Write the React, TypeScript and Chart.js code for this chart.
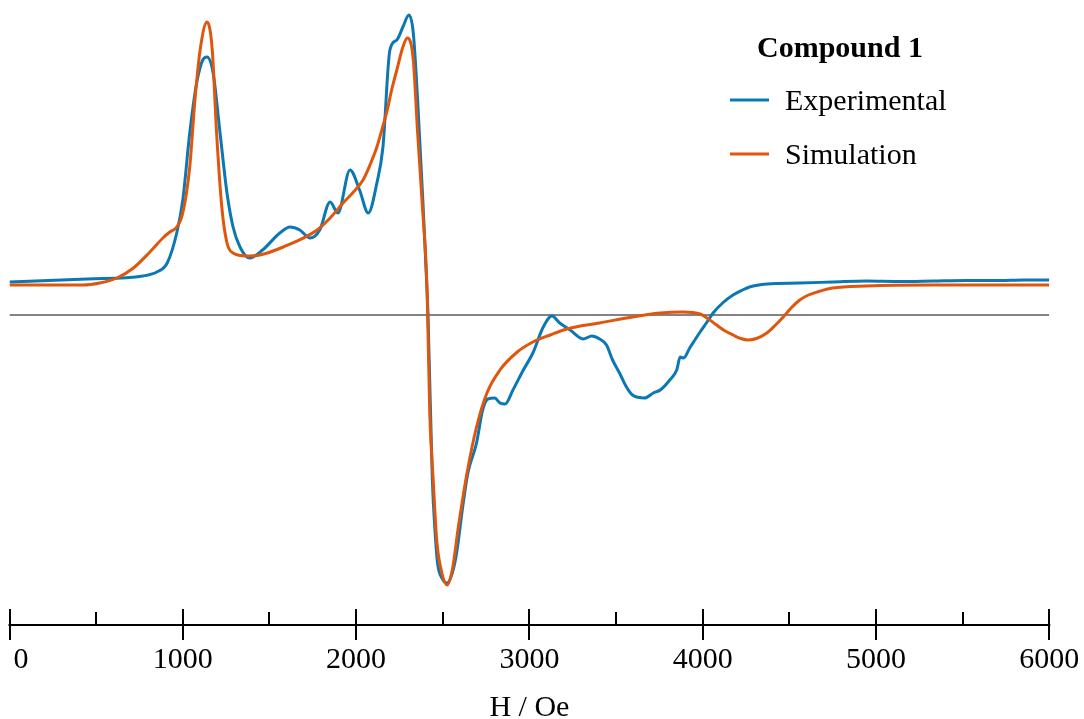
import React, { useEffect, useRef } from 'react';
import { Chart, registerables } from 'chart.js';

Chart.register(...registerables);

// Magnetic field (Oe) and EPR derivative signal (a.u.)
const expField = [
  0, 450, 770, 850, 910, 965, 1000, 1040, 1080, 1115, 1140, 1175, 1215, 1255, 1290, 1330, 1385,
  1460, 1560, 1620, 1675, 1735, 1790, 1850, 1895, 1965, 2020, 2070, 2120, 2155, 2195, 2235, 2270,
  2305, 2330, 2355, 2385, 2410, 2415, 2440, 2455, 2470, 2495, 2525, 2555, 2580, 2615, 2645, 2695,
  2730, 2760, 2800, 2830, 2860, 2905, 2965, 3020, 3080, 3130, 3175, 3235, 3310, 3360, 3405, 3445,
  3480, 3520, 3560, 3595, 3665, 3715, 3755, 3810, 3850, 3870, 3890, 3925, 3955, 3985, 4025, 4060,
  4115, 4175, 4230, 4270, 4370, 4560, 4750, 4945, 5140, 5330, 5520, 5715, 5850, 6000,
];
const expSignal = [
  33, 36, 39, 43, 52, 82, 115, 182, 232, 255, 258, 242, 182, 122, 88, 68, 57,
  65, 82, 88, 85, 77, 85, 113, 102, 145, 125, 102, 132, 168, 265, 275, 288,
  300, 282, 215, 115, 22, 0, -165, -215, -248, -263, -268, -258, -238, -192, -158, -128,
  -95, -84, -83, -88, -89, -75, -55, -38, -12, -1, -8, -15, -24, -21, -24, -30,
  -45, -58, -72, -80, -83, -78, -75, -65, -55, -42, -43, -33, -25, -17, -7, 2,
  12, 20, 25, 28, 31, 32, 33, 34, 33.5, 34, 34.5, 34.5, 35, 35,
];

const simField = [
  0, 425, 520, 620, 715, 810, 885, 925, 965, 1000, 1040, 1070, 1100, 1140, 1170, 1195, 1225, 1255,
  1290, 1370, 1445, 1580, 1775, 1850, 1925, 1980, 2040, 2080, 2120, 2150, 2180, 2205, 2235, 2270,
  2295, 2330, 2355, 2380, 2410, 2425, 2445, 2465, 2495, 2525, 2555, 2590, 2640, 2695, 2755, 2830,
  2930, 3020, 3120, 3215, 3405, 3560, 3755, 3885, 3985, 4025, 4080, 4130, 4175, 4220, 4260, 4310,
  4370, 4420, 4465, 4510, 4560, 4610, 4660, 4750, 4945, 5330, 6000,
];
const simSignal = [
  30, 30, 32, 37, 47, 63, 77, 83, 88, 102, 148, 215, 265, 293, 265, 182, 108, 72,
  62, 59, 60, 68, 85, 97, 112, 122, 135, 150, 168, 186, 205, 225, 245, 268,
  277, 255, 182, 115, 22, -98, -165, -225, -258, -270, -255, -212, -158, -112, -78, -55,
  -37, -27, -20, -14, -8, -3, 2, 3, 1, -3, -10, -16, -20, -23.5, -25, -23.5,
  -18, -10, -2, 7, 15, 20, 23, 27, 29, 30, 30,
];

const majorTicks = [0, 1000, 2000, 3000, 4000, 5000, 6000];
const minorTicks = [500, 1500, 2500, 3500, 4500, 5500];
const tickLabels = ['0', '1000', '2000', '3000', '4000', '5000', '6000'];
const axisTitle = 'H / Oe';
const legendTitle = 'Compound 1';
const seriesNames = ['Experimental', 'Simulation'];
const seriesColors = ['#0b78b4', '#e0560c'];

const FONT = '"Liberation Serif", "Times New Roman", serif';

const decorPlugin = {
  id: 'decor',
  afterDraw(chart: any) {
    const ctx = chart.ctx as CanvasRenderingContext2D;
    const xs = chart.scales.x;
    const area = chart.chartArea;
    const axisY = area.bottom;
    ctx.save();
    // axis line
    ctx.strokeStyle = '#000';
    ctx.lineWidth = 2;
    ctx.beginPath();
    ctx.moveTo(xs.getPixelForValue(0) - 1, axisY);
    ctx.lineTo(xs.getPixelForValue(6000) + 1, axisY);
    ctx.stroke();
    // major ticks
    majorTicks.forEach((t) => {
      const px = Math.round(xs.getPixelForValue(t));
      ctx.beginPath();
      ctx.moveTo(px, axisY - 16);
      ctx.lineTo(px, axisY + 15);
      ctx.stroke();
    });
    minorTicks.forEach((t) => {
      const px = Math.round(xs.getPixelForValue(t));
      ctx.beginPath();
      ctx.moveTo(px, axisY - 13);
      ctx.lineTo(px, axisY);
      ctx.stroke();
    });
    // tick labels
    ctx.fillStyle = '#000';
    ctx.font = `30px ${FONT}`;
    ctx.textBaseline = 'alphabetic';
    majorTicks.forEach((t, i) => {
      const px = xs.getPixelForValue(t);
      if (i === 0) {
        ctx.textAlign = 'left';
        ctx.fillText(tickLabels[i], px + 4, axisY + 43);
      } else {
        ctx.textAlign = 'center';
        ctx.fillText(tickLabels[i], px, axisY + 43);
      }
    });
    // axis title
    ctx.textAlign = 'center';
    ctx.fillText(axisTitle, (xs.getPixelForValue(0) + xs.getPixelForValue(6000)) / 2, axisY + 91);

    // legend
    ctx.textAlign = 'left';
    ctx.font = `bold 30px ${FONT}`;
    ctx.fillText(legendTitle, 757, 57);
    ctx.font = `30px ${FONT}`;
    const ds = chart.data.datasets;
    [0, 1].forEach((i) => {
      const yLine = 100 + i * 54;
      ctx.strokeStyle = ds[i].borderColor;
      ctx.lineWidth = 3;
      ctx.beginPath();
      ctx.moveTo(730, yLine);
      ctx.lineTo(769, yLine);
      ctx.stroke();
      ctx.fillStyle = '#000';
      ctx.fillText(ds[i].label, 785, yLine + 10);
    });
    ctx.restore();
  },
};

export default function App() {
  const canvasRef = useRef<HTMLCanvasElement | null>(null);

  useEffect(() => {
    if (!canvasRef.current) return;
    const chart = new Chart(canvasRef.current, {
      type: 'line',
      data: {
        datasets: [
          {
            label: seriesNames[0],
            data: expField.map((x, i) => ({ x, y: expSignal[i] })),
            borderColor: seriesColors[0],
            borderWidth: 3,
            pointRadius: 0,
            cubicInterpolationMode: 'monotone',
            order: 2,
          },
          {
            label: seriesNames[1],
            data: simField.map((x, i) => ({ x, y: simSignal[i] })),
            borderColor: seriesColors[1],
            borderWidth: 3,
            pointRadius: 0,
            cubicInterpolationMode: 'monotone',
            order: 1,
          },
          {
            label: 'zero',
            data: [
              { x: 0, y: 0 },
              { x: 6000, y: 0 },
            ],
            borderColor: '#5a5a5a',
            borderWidth: 1.5,
            pointRadius: 0,
            order: 3,
          },
        ],
      },
      options: {
        responsive: false,
        animation: false,
        devicePixelRatio: 1,
        layout: { padding: { left: 9.5, right: 34.7, top: 0, bottom: 94 } },
        plugins: { legend: { display: false }, tooltip: { enabled: false } },
        scales: {
          x: { type: 'linear', min: 0, max: 6000, display: false },
          y: { type: 'linear', min: -310, max: 315, display: false },
        },
      },
      plugins: [decorPlugin],
    } as any);
    return () => chart.destroy();
  }, []);

  return (
    <div style={{ position: 'fixed', left: 0, top: 0, width: 1084, height: 719, background: '#fff' }}>
      <canvas ref={canvasRef} width={1084} height={719} />
    </div>
  );
}
